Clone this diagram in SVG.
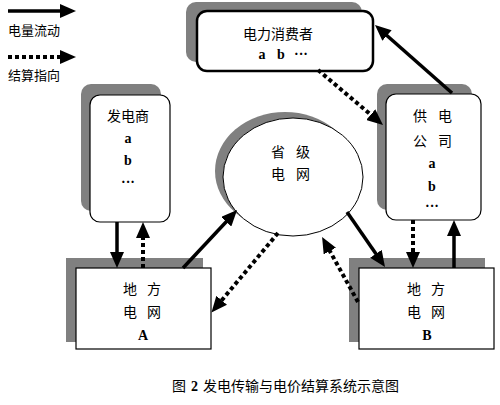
<svg xmlns="http://www.w3.org/2000/svg" width="500" height="405" viewBox="0 0 500 405">
<defs>
<marker id="hs" viewBox="0 0 16 14" refX="10" refY="7" markerWidth="16" markerHeight="14" markerUnits="userSpaceOnUse" orient="auto"><path d="M0,0 L16,7 L0,14 z" fill="#000"/></marker>
</defs>
<style>
.sh{fill:#808080;stroke:none}
.bx{fill:#fff;stroke:#000;stroke-width:1.2}
.bxt{fill:#fff;stroke:#000;stroke-width:2.5}
.zh{font-family:"Noto Sans CJK SC","Noto Sans",sans-serif;font-size:14px;fill:#000;text-anchor:middle}
.lt{font-family:"Liberation Serif",serif;font-weight:bold;font-size:14px;fill:#000;text-anchor:middle}
.s{stroke:#000;stroke-width:3.5;fill:none;marker-end:url(#hs)}
.d{stroke:#000;stroke-width:4;fill:none;stroke-dasharray:4 3;marker-end:url(#hs)}
</style>
<rect width="500" height="405" fill="#fff"/>
<g id="legend">
<line class="s" x1="8" y1="11" x2="70" y2="11"/>
<text class="zh" x="8" y="35" style="text-anchor:start;font-size:13px">电量流动</text>
<line class="d" x1="8" y1="57" x2="70" y2="57"/>
<text class="zh" x="8" y="80" style="text-anchor:start;font-size:13px">结算指向</text>
</g>
<g id="consumer">
<rect class="sh" x="186" y="2" width="176" height="60" rx="10"/>
<rect class="bxt" x="197" y="11" width="176" height="60" rx="10"/>
<text class="zh" x="278" y="39">电力消费者</text>
<text class="lt" x="262" y="59">a</text>
<text class="lt" x="281" y="59">b</text>
<text class="lt" x="301" y="59">···</text>
</g>
<g id="generator">
<rect class="sh" x="81" y="84" width="80" height="127" rx="10"/>
<rect class="bx" x="90" y="95" width="80" height="127" rx="10"/>
<text class="zh" x="128" y="121">发电商</text>
<text class="lt" x="128" y="143">a</text>
<text class="lt" x="128" y="165">b</text>
<text class="lt" x="128" y="187">···</text>
</g>
<g id="supplier">
<rect class="sh" x="377" y="84" width="95" height="126" rx="10"/>
<rect class="bx" x="386" y="94" width="95" height="126" rx="10"/>
<text class="zh" x="420" y="121">供</text>
<text class="zh" x="445" y="121">电</text>
<text class="zh" x="420" y="146">公</text>
<text class="zh" x="445" y="146">司</text>
<text class="lt" x="432" y="168">a</text>
<text class="lt" x="432" y="191">b</text>
<text class="lt" x="432" y="211">···</text>
</g>
<g id="province">
<ellipse class="sh" cx="285" cy="171" rx="70" ry="59"/>
<ellipse cx="293" cy="177" rx="70" ry="59" fill="#fff" stroke="#000" stroke-width="1"/>
<text class="zh" x="278" y="157">省</text>
<text class="zh" x="303" y="157">级</text>
<text class="zh" x="278" y="179">电</text>
<text class="zh" x="303" y="179">网</text>
</g>
<g id="gridA">
<rect class="sh" x="66" y="258" width="137" height="84"/>
<rect class="bx" x="76" y="268" width="135" height="81"/>
<text class="zh" x="130" y="294">地</text>
<text class="zh" x="154" y="294">方</text>
<text class="zh" x="130" y="317">电</text>
<text class="zh" x="154" y="317">网</text>
<text class="lt" x="143" y="340">A</text>
</g>
<g id="gridB">
<rect class="sh" x="349" y="258" width="136" height="84"/>
<rect class="bx" x="359" y="268" width="135" height="81"/>
<text class="zh" x="414" y="294">地</text>
<text class="zh" x="438" y="294">方</text>
<text class="zh" x="414" y="317">电</text>
<text class="zh" x="438" y="317">网</text>
<text class="lt" x="427" y="340">B</text>
</g>
<g id="connectors">
<line class="s" x1="117" y1="222" x2="117" y2="262"/>
<line class="d" x1="143" y1="268" x2="143" y2="228"/>
<line class="s" x1="183" y1="268" x2="233" y2="214.5"/>
<line class="d" x1="278" y1="233" x2="215.3" y2="308"/>
<line class="s" x1="347" y1="212" x2="381.6" y2="262"/>
<line class="d" x1="358" y1="302" x2="325" y2="242.3"/>
<line class="d" x1="413" y1="220" x2="413" y2="262"/>
<line class="s" x1="454" y1="268" x2="454" y2="226"/>
<line class="s" x1="452" y1="93" x2="379.5" y2="29"/>
<line class="d" x1="318" y1="70" x2="378.4" y2="121.1"/>
</g>
<text x="172" y="391" style="font-family:'Noto Sans CJK SC','Noto Sans',sans-serif;font-size:14px;fill:#000">图<tspan x="191" style="font-family:'Liberation Serif',serif;font-weight:bold">2</tspan><tspan x="203">发电传输与电价结算系统示意图</tspan></text>
</svg>
